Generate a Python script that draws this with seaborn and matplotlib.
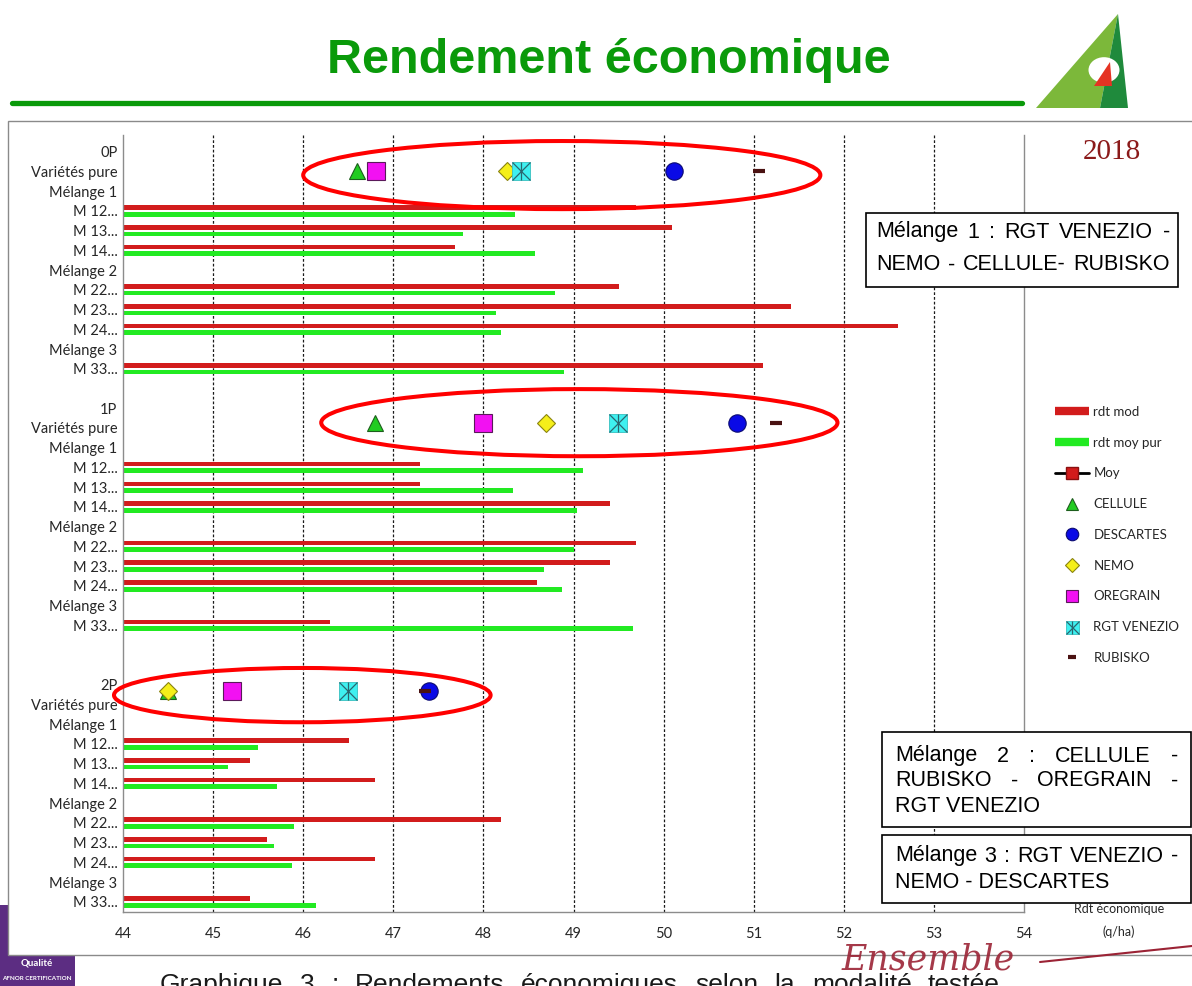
import numpy as np
import pandas as pd
import matplotlib
matplotlib.use("Agg")
import matplotlib.pyplot as plt
from matplotlib.patches import Ellipse, Rectangle, Polygon, Circle
from matplotlib.lines import Line2D
import seaborn as sns

# ---- data (q/ha) ----
groups = ["0P", "1P", "2P"]
row_template = ["Variétés pure", "Mélange 1", "M 12...", "M 13...", "M 14...",
                "Mélange 2", "M 22...", "M 23...", "M 24...", "Mélange 3", "M 33..."]
blank_after = [1, 2, 0]
mixes = ["M 12...", "M 13...", "M 14...", "M 22...", "M 23...", "M 24...", "M 33..."]

rdt_mod_0P = [49.69, 50.09, 47.69, 49.50, 51.41, 52.60, 51.10]
rdt_moy_0P = [48.35, 47.77, 48.57, 48.80, 48.14, 48.20, 48.90]
rdt_mod_1P = [47.30, 47.30, 49.40, 49.69, 49.40, 48.60, 46.30]
rdt_moy_1P = [49.10, 48.33, 49.04, 49.00, 48.67, 48.87, 49.66]
rdt_mod_2P = [46.51, 45.41, 46.80, 48.20, 45.60, 46.80, 45.41]
rdt_moy_2P = [45.50, 45.17, 45.71, 45.90, 45.68, 45.88, 46.14]

varieties = ["CELLULE", "DESCARTES", "NEMO", "OREGRAIN", "RGT VENEZIO", "RUBISKO"]
pure_0P = [46.60, 50.12, 48.26, 46.81, 48.42, 51.06]
pure_1P = [46.80, 50.81, 48.69, 48.00, 49.49, 51.25]
pure_2P = [44.50, 47.40, 44.50, 45.21, 46.50, 47.35]

x_ticks = list(range(44, 55))

rdt_mod = [rdt_mod_0P, rdt_mod_1P, rdt_mod_2P]
rdt_moy = [rdt_moy_0P, rdt_moy_1P, rdt_moy_2P]
pure = [pure_0P, pure_1P, pure_2P]

RED = "#d21c1c"
GREEN = "#22ea22"

sns.set_theme(style="white")
plt.rcParams["font.family"] = ["Lato", "DejaVu Sans"]

W, H = 1192, 986
fig = plt.figure(figsize=(W / 100, H / 100), dpi=100)


def fx(px):
    return px / W


def fy(py):
    return 1 - py / H


# ---- rows of the category axis ----
keys, labels = [], []
for g, nb in zip(groups, blank_after):
    for lab in [g] + row_template:
        keys.append(f"{g}|{lab}")
        labels.append(lab)
    for b in range(nb):
        keys.append(f"{g}|blank{b}")
        labels.append("")

records = []
for g, mod, moy in zip(groups, rdt_mod, rdt_moy):
    for m, a, b in zip(mixes, mod, moy):
        records.append({"row": f"{g}|{m}", "serie": "rdt mod", "value": a})
        records.append({"row": f"{g}|{m}", "serie": "rdt moy pur", "value": b})
df = pd.DataFrame(records)

# ---- page decoration (behind the chart frame) ----
fig.patches.append(Rectangle((0, fy(986)), fx(75), (986 - 905) / H, transform=fig.transFigure,
                             fc="#5c2d82", ec="none", zorder=-3))
fig.text(fx(37), fy(963), "Qualité", color="white", fontsize=7, ha="center", va="center",
         fontweight="bold", zorder=-2)
fig.text(fx(37), fy(979), "AFNOR CERTIFICATION", color="white", fontsize=4.5, ha="center",
         va="center", fontweight="bold", zorder=-2)

logo_light = [(1036, 108), (1118, 14), (1100, 108)]
logo_dark = [(1118, 14), (1128, 108), (1100, 108)]
fig.patches.append(Polygon([(fx(a), fy(b)) for a, b in logo_light], closed=True,
                           transform=fig.transFigure, fc="#7cb83a", ec="none", zorder=-3))
fig.patches.append(Polygon([(fx(a), fy(b)) for a, b in logo_dark], closed=True,
                           transform=fig.transFigure, fc="#1f8a3c", ec="none", zorder=-3))
fig.patches.append(Circle((fx(1104), fy(70)), 0.013, transform=fig.transFigure,
                          fc="white", ec="none", zorder=-2))
fig.patches.append(Polygon([(fx(1094), fy(86)), (fx(1110), fy(62)), (fx(1112), fy(86))],
                           closed=True, transform=fig.transFigure, fc="#e53323", ec="none",
                           zorder=-1.5))
fig.text(fx(1112), fy(129), "aGRICULTURE", color="#1f6e3a", fontsize=13, ha="center",
         va="center", fontweight="bold", family="Liberation Sans", zorder=-2)

# chart frame
fig.patches.append(Rectangle((fx(8), fy(955)), fx(1200) - fx(8), (955 - 121) / H,
                             transform=fig.transFigure, fc="white", ec="#8a8a8a", lw=1,
                             zorder=-1))

# title and rule
fig.text(fx(609), fy(73), "Rendement économique", color="#0a9a0a", fontsize=35,
         fontweight="bold", ha="center", va="baseline", family="Liberation Sans")
fig.lines.append(Line2D([fx(12), fx(1022)], [fy(103), fy(103)], transform=fig.transFigure,
                        color="#0a9a0a", lw=3.8))
fig.text(fx(1112), fy(152), "2018", color="#8b1a1a", fontsize=21, ha="center", va="center",
         family="Liberation Serif", zorder=2)

# ---- main chart ----
ax = fig.add_axes([fx(123), fy(911.7), fx(1024) - fx(123), (911.7 - 135) / H])
ax.set_facecolor("none")
sns.barplot(data=df, y="row", x="value", hue="serie", order=keys,
            hue_order=["rdt mod", "rdt moy pur"], palette=[RED, GREEN], saturation=1,
            orient="h", width=0.68, gap=0.3, linewidth=0, errorbar=None, legend=False, ax=ax)

ax.set_xlim(44, 54)
ax.set_ylim(38.5, -0.84)
ax.set_xticks(x_ticks)
ax.set_xticklabels([str(t) for t in x_ticks], fontsize=10.5, color="#262626")
ax.set_yticks(range(len(keys)))
ax.set_yticklabels(labels, fontsize=10.5, color="#262626")
ax.set_yticks(np.arange(-0.5, len(keys)), minor=True)
ax.tick_params(axis="y", which="major", length=0, pad=4)
ax.tick_params(axis="y", which="minor", length=5, width=0.8, color="#8c8c8c", direction="out")
ax.tick_params(axis="x", which="major", length=5, width=0.8, color="#8c8c8c", direction="out",
               pad=6)
ax.set_xlabel("")
ax.set_ylabel("")

ax.xaxis.grid(True, color="#1a1a1a", lw=0.9, ls=(0, (2.2, 1.6)))
gl = ax.get_xgridlines()
gl[0].set_visible(False)
gl[-1].set_visible(False)
ax.set_axisbelow(True)

for side in ["left", "bottom", "right"]:
    ax.spines[side].set_visible(True)
    ax.spines[side].set_color("#8c8c8c")
    ax.spines[side].set_linewidth(1)
ax.spines["top"].set_visible(False)

# pure-variety markers
styles = {
    "CELLULE": dict(marker="^", ms=12, mfc="#22cc22", mec="#1d5e1d", mew=0.8),
    "DESCARTES": dict(marker="o", ms=12.5, mfc="#0a0ae6", mec="#0a0a70", mew=0.8),
    "NEMO": dict(marker="D", ms=9.5, mfc="#f5ef1a", mec="#8a8410", mew=0.8),
    "OREGRAIN": dict(marker="s", ms=12.5, mfc="#f211f2", mec="#5a1a5a", mew=0.8),
    "RGT VENEZIO": dict(marker="s", ms=13, mfc="#3ef0f0", mec="#36c0c0", mew=0.6),
    "RUBISKO": dict(marker="_", ms=8, mec="#4a1212", mew=3),
}
cross_styles = [dict(marker="x", mec="#2a6670", mew=0.9), dict(marker="|", mec="#2a6670", mew=0.9)]
marker_offsets = [1.0, 0.73, 0.33]
ellipse_shift = [0.19, 0.0, 0.2]
ellipse_height = [3.45, 3.4, 2.75]
for gi, g in enumerate(groups):
    y0 = keys.index(f"{g}|{g}") + marker_offsets[gi]
    for v, xv in zip(varieties, pure[gi]):
        ax.plot([xv], [y0], ls="none", zorder=4, clip_on=False, **styles[v])
        if v == "RGT VENEZIO":
            for cs in cross_styles:
                ax.plot([xv], [y0], ls="none", ms=13, zorder=4.1, **cs)
    left = min(pure[gi]) - 0.6
    right = max(pure[gi]) + 0.68
    ax.add_patch(Ellipse(((left + right) / 2, y0 + ellipse_shift[gi]), right - left,
                         ellipse_height[gi], fill=False, ec="#ff0000", lw=2.9,
                         zorder=5, clip_on=False))

# axis title at the right
fig.text(fx(1119), fy(909), "Rdt économique", fontsize=9, ha="center", va="center",
         color="#262626")
fig.text(fx(1119), fy(932), "(q/ha)", fontsize=9, ha="center", va="center", color="#262626")

# legend
handles = [
    Line2D([], [], color=RED, lw=6, solid_capstyle="butt"),
    Line2D([], [], color=GREEN, lw=6, solid_capstyle="butt"),
    Line2D([], [], color="black", lw=2, marker="s", ms=8, mfc=RED, mec="#8a1010"),
]
for v in varieties:
    st = dict(styles[v])
    st["ms"] = st["ms"] * 0.72
    h = Line2D([], [], ls="none", **st)
    if v == "RGT VENEZIO":
        h = tuple([h] + [Line2D([], [], ls="none", ms=st["ms"], **cs) for cs in cross_styles])
    handles.append(h)
leg_labels = ["rdt mod", "rdt moy pur", "Moy"] + varieties
fig.legend(handles, leg_labels, loc="upper left", bbox_to_anchor=(fx(1055), fy(406)),
           frameon=False, fontsize=9.5, handlelength=2.6, handletextpad=0.3,
           labelspacing=1.42, borderpad=0, borderaxespad=0)

# ---- composition text boxes ----
renderer = fig.canvas.get_renderer()
BOX_FONT = dict(fontsize=15.5, family="Liberation Sans", color="black", va="center",
                ha="left", zorder=3)


def justified(line, x0, x1, y, size=None):
    words = line.split()
    kw = dict(BOX_FONT)
    if size:
        kw["fontsize"] = size
    texts = [fig.text(0, 0, w, **kw) for w in words]
    widths = [t.get_window_extent(renderer).width for t in texts]
    gap = (x1 - x0 - sum(widths)) / max(len(words) - 1, 1)
    x = x0
    for t, w in zip(texts, widths):
        t.set_position((fx(x), fy(y)))
        x += w + gap
    return texts


def box(x0, y0, x1, y1):
    fig.patches.append(Rectangle((fx(x0), fy(y1)), fx(x1) - fx(x0), (y1 - y0) / H,
                                 transform=fig.transFigure, fc="white", ec="black", lw=1.2,
                                 zorder=2.5))


box(866, 213, 1178, 287)
justified("Mélange 1 : RGT VENEZIO -", 876, 1170, 232)
justified("NEMO - CELLULE- RUBISKO", 876, 1170, 265)

box(882, 732, 1191, 827)
justified("Mélange 2 : CELLULE -", 895, 1178, 756)
justified("RUBISKO - OREGRAIN -", 895, 1178, 781)
fig.text(fx(895), fy(807), "RGT VENEZIO", **BOX_FONT)

box(882, 835, 1191, 903)
justified("Mélange 3 : RGT VENEZIO -", 895, 1178, 856)
fig.text(fx(895), fy(883), "NEMO - DESCARTES", **BOX_FONT)

# caption, cut by the bottom edge like in the original slide
cap = justified("Graphique 3 : Rendements économiques selon la modalité testée",
                160, 1000, 985, size=19)
for t in cap:
    t.set_color("#1a1a1a")

# handwritten signature (bottom right)
fig.text(fx(842), fy(970), "Ensemble", fontsize=25, style="italic", color="#9b2335",
         family="DejaVu Serif", ha="left", va="baseline", alpha=0.9, zorder=3)
fig.lines.append(Line2D([fx(1040), fx(1192)], [fy(962), fy(946)], transform=fig.transFigure,
                        color="#9b2335", lw=1.5, zorder=3))

fig.savefig("out.png", dpi=100)
